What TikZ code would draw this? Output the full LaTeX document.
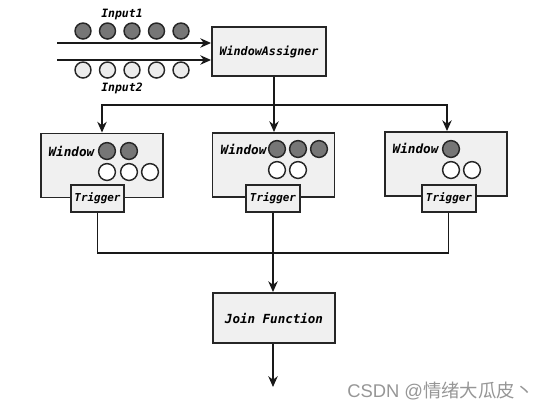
\documentclass[tikz,border=0pt]{standalone}
\usepackage{fontspec}
\setmonofont{DejaVu Sans Mono}
\newfontfamily\cjkfont{Noto Sans CJK SC}
\newfontfamily\latinwm{Liberation Sans}
\usetikzlibrary{arrows.meta}
\definecolor{boxfill}{RGB}{240,240,240}
\definecolor{dotfill}{RGB}{118,118,118}
\definecolor{ofill}{RGB}{236,236,236}
\definecolor{wmark}{RGB}{150,150,150}
\tikzset{
  lbl/.style={font=\ttfamily\bfseries\itshape, inner sep=0pt},
  box/.style={draw=black!85, line width=1.4pt, fill=boxfill, inner sep=0pt},
  winbox/.style={box, minimum width=91.5pt, minimum height=48pt},
  trigbox/.style={box, minimum width=40pt, minimum height=20.25pt, font=\ttfamily\bfseries\itshape\fontsize{8.2}{9}\selectfont},
  fdot/.style={circle, draw=black!85, line width=1.1pt, fill=dotfill, minimum size=12.6pt, inner sep=0pt},
  odot/.style={circle, draw=black!85, line width=1.1pt, fill=white, minimum size=12.6pt, inner sep=0pt},
  idot/.style={circle, draw=black!85, line width=1.1pt, fill=dotfill, minimum size=12pt, inner sep=0pt},
  iodot/.style={circle, draw=black!85, line width=1.1pt, fill=ofill, minimum size=12pt, inner sep=0pt},
  conn/.style={line width=1.4pt, draw=black!90},
  arr/.style={conn, -{Stealth[length=8pt,width=7pt,inset=2.5pt]}},
}
\begin{document}
\begin{tikzpicture}[x=0.75pt,y=-0.75pt]
\useasboundingbox (0,0) rectangle (546,408);

% WindowAssigner
\node[box, minimum width=85.5pt, minimum height=36.75pt, font=\ttfamily\bfseries\itshape\fontsize{8.8}{10}\selectfont] (wa) at (269,51.5) {WindowAssigner};

% input arrows
\coordinate (in1) at (57,43);
\coordinate (in2) at (57,60);
\draw[arr] (in1) -- (in1 -| wa.west);
\draw[arr] (in2) -- (in2 -| wa.west);
\node[lbl, font=\ttfamily\bfseries\itshape\fontsize{8.6}{10}\selectfont] (lin1) at (122,15) {Input1};
\node[lbl, font=\ttfamily\bfseries\itshape\fontsize{8.6}{10}\selectfont] (lin2) at (122,88) {Input2};
\foreach \i/\x in {1/83,2/107.5,3/132,4/156.5,5/181}{
  \node[idot] (a\i) at (\x,31) {};
  \node[iodot] (b\i) at (\x,70) {};
}

% windows
\node[winbox] (w1) at (102,165.5) {};
\node[winbox] (w2) at (273.5,165) {};
\node[winbox] (w3) at (446,164) {};

\node[lbl, font=\ttfamily\bfseries\itshape\fontsize{9.5}{10}\selectfont] (tw1) at (71.5,151) {Window};
\node[lbl, font=\ttfamily\bfseries\itshape\fontsize{9.5}{10}\selectfont] (tw2) at (243.5,149) {Window};
\node[lbl, font=\ttfamily\bfseries\itshape\fontsize{9.5}{10}\selectfont] (tw3) at (415.5,148) {Window};

\node[fdot] (c11) at (107,151) {};
\node[fdot] (c12) at (129,151) {};
\node[odot] (c13) at (107,172) {};
\node[odot] (c14) at (129,172) {};
\node[odot] (c15) at (150,172) {};

\node[fdot] (c21) at (277,149) {};
\node[fdot] (c22) at (298,149) {};
\node[fdot] (c23) at (319,149) {};
\node[odot] (c24) at (277,170) {};
\node[odot] (c25) at (298,170) {};

\node[fdot] (c31) at (451,149) {};
\node[odot] (c32) at (451,170) {};
\node[odot] (c33) at (472,170) {};

% triggers
\node[trigbox] (t1) at (97.5,198.5) {Trigger};
\node[trigbox] (t2) at (273,198.5) {Trigger};
\node[trigbox] (t3) at (449,198.5) {Trigger};

% join
\node[box, minimum width=91.5pt, minimum height=37.5pt, font=\ttfamily\bfseries\itshape\fontsize{9.4}{10}\selectfont] (jf) at (274,318) {Join Function};

% connectors from WindowAssigner
\coordinate (split) at (274,105);
\coordinate (out) at (273,387);
\draw[conn] (wa.south -| split) -- (split);
\draw[arr] (split) -| (w1.north -| 102,0);
\draw[arr] (split) -| (w3.north -| 447,0);
\draw[arr] (split) -- (w2.north -| split);

% connectors to join
\coordinate (merge) at (273,253);
\draw[conn] (t1.south) |- (merge);
\draw[conn] (t3.south -| 448.5,0) |- (merge);
\draw[arr] (t2.south) -- (jf.north -| t2.south);
\draw[arr] (jf.south -| out) -- (out);

% watermark
\node[anchor=west, inner sep=0pt, text=wmark, font=\fontsize{13.8}{15}\selectfont] (wm) at (347,391) {{\latinwm CSDN @}{\cjkfont 情绪大瓜皮丶}};
\end{tikzpicture}
\end{document}
